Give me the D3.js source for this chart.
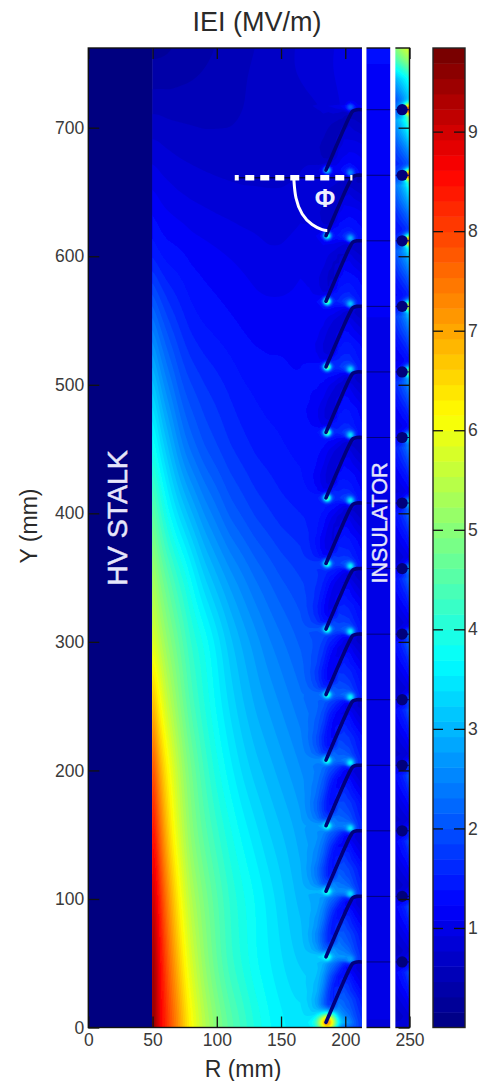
<!DOCTYPE html>
<html>
<head>
<meta charset="utf-8">
<script src="https://cdn.jsdelivr.net/npm/d3@7"></script>
<style>
  html, body { margin: 0; padding: 0; background: #fff; }
  text { font-family: "Liberation Sans", Arial, sans-serif; }
  .tick text { font-size: 17.5px; fill: #3a3a3a; }
  .tick line { stroke: #111; stroke-width: 1.3; }
  .domain { display: none; }
</style>
</head>
<body>
<div id="chart"></div>
<script>
// |E| (MV/m)
const bulkR = [50, 54, 58, 62, 66, 70, 75, 80, 90, 100, 110, 120, 130, 140, 150, 160, 170, 180, 190, 200, 213];
const bulkY = [0, 50, 100, 150, 200, 250, 300, 350, 400, 450, 500, 550, 600, 650, 700, 750, 762];
const bulkE = [
  [9.8, 9.0, 8.5, 8.1, 7.7, 7.3, 6.7, 6.2, 5.5, 5.0, 4.6, 4.3, 4.0, 3.75, 3.6, 3.5, 3.5, 3.5, 2.6, 2.1, 1.7],
  [9.7, 8.9, 8.3, 7.75, 7.25, 6.8, 6.2, 5.75, 5.1, 4.6, 4.2, 3.95, 3.7, 3.55, 3.4, 3.25, 3.15, 3.05, 2.5, 2.0, 1.6],
  [9.3, 8.6, 7.9, 7.3, 6.8, 6.3, 5.8, 5.4, 4.9, 4.5, 4.15, 3.9, 3.7, 3.5, 3.3, 3.1, 2.95, 2.8, 2.35, 1.95, 1.6],
  [8.7, 8.0, 7.3, 6.7, 6.2, 5.8, 5.4, 5.0, 4.55, 4.2, 3.9, 3.65, 3.45, 3.25, 3.1, 2.95, 2.75, 2.6, 2.2, 1.85, 1.55],
  [8.1, 7.3, 6.7, 6.2, 5.85, 5.5, 5.1, 4.8, 4.3, 3.9, 3.6, 3.35, 3.15, 3.0, 2.85, 2.7, 2.55, 2.4, 2.05, 1.8, 1.5],
  [7.0, 6.4, 5.9, 5.55, 5.3, 5.0, 4.7, 4.4, 4.0, 3.65, 3.35, 3.1, 2.9, 2.75, 2.6, 2.45, 2.3, 2.15, 1.9, 1.7, 1.45],
  [5.9, 5.55, 5.3, 5.05, 4.85, 4.65, 4.4, 4.15, 3.85, 3.5, 3.15, 2.9, 2.7, 2.5, 2.35, 2.2, 2.05, 1.95, 1.75, 1.6, 1.4],
  [5.4, 5.0, 4.75, 4.55, 4.35, 4.15, 3.95, 3.7, 3.25, 2.95, 2.7, 2.5, 2.3, 2.15, 2.0, 1.9, 1.8, 1.7, 1.6, 1.5, 1.35],
  [4.7, 4.3, 4.05, 3.75, 3.55, 3.35, 3.15, 2.95, 2.6, 2.35, 2.1, 1.95, 1.8, 1.7, 1.6, 1.55, 1.5, 1.45, 1.45, 1.4, 1.3],
  [3.9, 3.6, 3.3, 3.1, 2.85, 2.65, 2.4, 2.25, 2.0, 1.85, 1.7, 1.6, 1.5, 1.45, 1.4, 1.35, 1.3, 1.3, 1.3, 1.3, 1.25],
  [3.2, 2.9, 2.65, 2.45, 2.3, 2.1, 1.95, 1.85, 1.7, 1.6, 1.5, 1.4, 1.35, 1.3, 1.3, 1.25, 1.25, 1.3, 1.4, 1.45, 1.4],
  [2.4, 2.15, 2.0, 1.85, 1.75, 1.65, 1.55, 1.45, 1.35, 1.3, 1.25, 1.2, 1.15, 1.15, 1.15, 1.15, 1.2, 1.2, 1.3, 1.4, 1.4],
  [1.5, 1.4, 1.35, 1.3, 1.3, 1.28, 1.25, 1.2, 1.16, 1.12, 1.08, 1.04, 1.0, .95, .95, 1.0, 1.05, 1.1, 1.2, 1.3, 1.35],
  [1.1, 1.05, 1.0, .98, .95, .92, .9, .88, .85, .82, .8, .78, .78, .78, .78, .8, .85, .9, 1.0, 1.1, 1.25],
  [.7, .7, .68, .66, .65, .64, .63, .62, .6, .6, .6, .62, .62, .6, .6, .62, .66, .7, .8, .95, 1.1],
  [.3, .3, .32, .32, .34, .36, .38, .4, .45, .5, .55, .6, .65, .7, .75, .8, .85, .9, .95, 1.0, 1.05],
  [.25, .25, .25, .27, .28, .3, .32, .35, .4, .45, .5, .55, .6, .65, .7, .75, .8, .85, .9, .95, 1.0]
];

// how the ribs bend that field, by R and height above a rib tip
const cellR = [165, 172, 178, 183, 187, 191, 195, 199, 203, 207, 210, 213];
const cellT = [0, 6, 12, 18, 24, 30, 36, 42, 46, 48, 51];
const cellFactor = [
  [1, 1.02, 1.06, 1.15, 1.15, 1.15, 1.2, 1.3, 1.3, 1.15, 1.05, 1],
  [1, .97, .9, .78, .8, 1.1, 1.1, 1.15, 1.15, 1.05, 1, .95],
  [1, .95, .85, .72, .62, .75, 1.05, 1.05, 1.05, 1, .95, .9],
  [1, .95, .85, .72, .62, .6, .95, 1, 1, .95, .9, .85],
  [1, .97, .9, .78, .65, .6, .8, .95, .9, .85, .8, .75],
  [1, .98, .93, .85, .72, .62, .6, .85, .85, .75, .7, .65],
  [1, 1, .97, .9, .8, .7, .6, .6, .75, .65, .6, .55],
  [1, 1, 1, .97, .9, .85, .75, .65, .55, .55, .5, .5],
  [1, 1, 1, 1, .95, .95, .9, .8, .7, .55, .5, .5],
  [1, 1, 1.02, 1.05, 1.05, 1.05, 1.05, 1.1, 1.15, 1.1, 1.05, 1],
  [1, 1.02, 1.06, 1.15, 1.15, 1.15, 1.2, 1.3, 1.3, 1.15, 1.05, 1]
];

const ribTipY = [4, 55, 106, 157, 208, 259, 310, 361, 412, 463, 514, 565, 616, 667];
const ribTopY = [51, 102, 153, 204, 255, 306, 357, 408, 459, 510, 561, 612, 663, 714];
const ribTipE = [7.2, 4.2, 4.2, 4.2, 4.2, 4.3, 4.4, 4.5, 4.8, 5, 5.2, 5, 4.3, 3.5];
const ribCornerE = [2.8, 3.4, 3.6, 3.7, 3.7, 3.7, 3.7, 3.6, 3.5, 3.4, 3.2, 3.0, 2.6, 2.2];
const ribShapeR = [0, 19, 21, 24, 28];
const ribShapeY = [0, 43, 46, 47, 47];

const insulatorY = [0, 200, 500, 700, 762];
const insulatorE = [.92, 1.0, 1.05, 1.15, 1.25];

// outer strip, one cell below each disc
const stripR = [239, 243, 247, 250];
const stripS = [0, 8, 18, 30, 42, 51];
const stripFactor = [
  [1, 1, 1, 1.6],
  [1.4, 1.6, 1.9, 2.4],
  [1.2, 1.4, 1.6, 1.9],
  [.95, 1.1, 1.25, 1.45],
  [.8, .85, .95, 1.05],
  [1, 1, 1, 1.3]
];
const stripLevel = [.85, .85, .85, .9, .9, .95, 1, 1, 1.1, 1.2, 1.3, 1.5, 1.7, 2];
const stripTopY = [714, 722, 738, 753, 762];
const stripTopE = [
  [2.4, 2.8, 3.3, 4],
  [2, 2.4, 2.8, 3.2],
  [3, 3.3, 3.6, 3.9],
  [4.4, 4.7, 5, 5.2],
  [5, 5.3, 5.6, 5.8]
];
const discR = 244.3;
const discHotE = [1.3, 1.4, 1.6, 1.8, 2, 2.4, 2.8, 3.2, 3.8, 5, 6, 7.5, 8, 8.2];

const dashR = [114, 205.6];
const dashY = [661, 661];
const arcR = [160, 161, 166, 174, 183, 186];
const arcY = [660, 645, 632, 624, 620, 620];

const xTicks = [0, 50, 100, 150, 200, 250];
const yTicks = [0, 100, 200, 300, 400, 500, 600, 700];
const barTicks = [1, 2, 3, 4, 5, 6, 7, 8, 9];
const gaps = [[213, 216.5], [235, 239]];

const W = 479, H = 1081;
const x = d3.scaleLinear().domain([0, 250]).range([88.3, 409.5]);
const y = d3.scaleLinear().domain([0, 762]).range([1027.5, 48]);
const barY = d3.scaleLinear().domain([0, 9.84]).range([1027.5, 48]);

// jet, 64 levels like the matlab colorbar
const jet = d3.scaleLinear()
  .domain([0, 1.23, 3.69, 6.15, 8.61, 9.84])
  .range(['#000080', '#0000ff', '#00ffff', '#ffff00', '#ff0000', '#700000'])
  .clamp(true);
const step = 9.84 / 64;
const levels = d3.range(64).map(i => i * step);

function lookup(xs, ys, m, px, py) {
  const i = Math.max(0, Math.min(xs.length - 2, d3.bisectRight(xs, px) - 1));
  const j = Math.max(0, Math.min(ys.length - 2, d3.bisectRight(ys, py) - 1));
  const a = Math.max(0, Math.min(1, (px - xs[i]) / (xs[i + 1] - xs[i])));
  const b = Math.max(0, Math.min(1, (py - ys[j]) / (ys[j + 1] - ys[j])));
  return (m[j][i] * (1 - a) + m[j][i + 1] * a) * (1 - b) +
         (m[j + 1][i] * (1 - a) + m[j + 1][i + 1] * a) * b;
}

function peak(v, E, dR, dY, r) {
  const f = Math.exp(-(dR * dR + dY * dY) / (r * r));
  return v + (E - v) * f;
}

// smoothed copy of the read grid so the bands don't kink at every row
const smoothW = 170, smoothH = 770;
const smooth = new Float64Array(smoothW * smoothH);
for (let j = 0; j < smoothH; j++) {
  for (let i = 0; i < smoothW; i++) {
    smooth[j * smoothW + i] = lookup(bulkR, bulkY, bulkE, 48 + i, j - 2);
  }
}
d3.blur2({ data: smooth, width: smoothW, height: smoothH }, 2, 12);

function mainField(R, Y) {
  const i = Math.max(0, Math.min(smoothW - 1, Math.round(R - 48)));
  const j = Math.max(0, Math.min(smoothH - 1, Math.round(Y + 2)));
  let v = smooth[j * smoothW + i];
  const k = Math.floor((Y - ribTipY[0]) / 51);
  if (R > 165 && k <= 13) {
    const t = Y - ribTipY[0] - k * 51;
    v *= lookup(cellR, cellT, cellFactor, R, t);
  }
  ribTipY.forEach((ty, n) => {
    if (Math.abs(Y - ty) < 14) v = peak(v, ribTipE[n], R - 186, Y - ty, n == 0 ? 7 : 3);
  });
  ribTopY.forEach((ty, n) => {
    if (Math.abs(Y - ty) < 14) v = peak(v, ribCornerE[n], R - 204, Y - ty - 2, 3);
  });
  return v;
}

function stripField(R, Y) {
  let v;
  if (Y >= ribTopY[13]) {
    v = lookup(stripR, stripTopY, stripTopE, R, Y);
  } else {
    const k = Math.max(0, Math.min(13, d3.bisectLeft(ribTopY, Y)));
    const s = ribTopY[k] - Y;
    v = stripLevel[k] * lookup(stripR, stripS, stripFactor, R, s);
  }
  ribTopY.forEach((ty, n) => {
    if (Math.abs(Y - ty) < 14) v = peak(v, discHotE[n], R - 250, Y - ty, 4.5);
  });
  return v;
}

function insulatorField(R, Y) {
  return lookup([0, 1], insulatorY, insulatorE.map(e => [e, e]), 0, Y);
}

const svg = d3.select('#chart').append('svg')
  .attr('width', W)
  .attr('height', H)
  .style('display', 'block');

const defs = svg.append('defs');
defs.append('filter').attr('id', 'soft')
  .attr('x', '-2%').attr('y', '-2%').attr('width', '104%').attr('height', '104%')
  .append('feGaussianBlur').attr('stdDeviation', 0.55);

const plot = svg.append('g').attr('filter', 'url(#soft)');

// stalk
plot.append('rect')
  .attr('x', x(0)).attr('y', y(762))
  .attr('width', x(50) - x(0)).attr('height', y(0) - y(762))
  .attr('fill', '#000080');

let clipCount = 0;
function drawField(R0, R1, dR, dY, fn) {
  const Rs = d3.range(R0 - dR, R1 + 2 * dR, dR);
  const Ys = d3.range(-dY, 762 + 2 * dY, dY);
  const values = new Array(Rs.length * Ys.length);
  Ys.forEach((Y, j) => {
    Rs.forEach((R, i) => { values[j * Rs.length + i] = fn(R, Y); });
  });
  const contours = d3.contours().size([Rs.length, Ys.length]).thresholds(levels)(values);
  const path = d3.geoPath(d3.geoTransform({
    point(px, py) {
      this.stream.point(x(R0 - dR + (px - 0.5) * dR), y(-dY + (py - 0.5) * dY));
    }
  }));
  const id = 'clip' + (clipCount++);
  defs.append('clipPath').attr('id', id).append('rect')
    .attr('x', x(R0)).attr('y', y(762))
    .attr('width', x(R1) - x(R0)).attr('height', y(0) - y(762));
  plot.append('g').attr('clip-path', `url(#${id})`)
    .selectAll('path')
    .data(contours)
    .join('path')
    .attr('d', path)
    .attr('fill', d => jet(d.value + step / 2));
}

drawField(50, 213, 1, 1, mainField);
drawField(216.5, 235, 2, 2, insulatorField);
drawField(239, 250, 0.5, 1, stripField);

// ribs
const ribLine = d3.line().x(d => x(d[0])).y(d => y(d[1])).curve(d3.curveCatmullRom);
plot.append('g').selectAll('path')
  .data(ribTipY)
  .join('path')
  .attr('d', ty => ribLine(ribShapeR.map((r, i) => [185 + r, ty + ribShapeY[i]])))
  .attr('fill', 'none')
  .attr('stroke', '#00007c')
  .attr('stroke-width', 3.6)
  .attr('stroke-linecap', 'round');

plot.append('g').selectAll('line')
  .data(ribTopY)
  .join('line')
  .attr('x1', x(212)).attr('x2', x(250))
  .attr('y1', d => y(d)).attr('y2', d => y(d))
  .attr('stroke', '#00007c')
  .attr('stroke-width', 1);

plot.append('g').selectAll('circle')
  .data(ribTopY)
  .join('circle')
  .attr('cx', x(discR))
  .attr('cy', d => y(d))
  .attr('r', 5.6)
  .attr('fill', '#00007c');

// frame + axes
const fw = x(250) - x(0), fh = y(0) - y(762);
svg.append('rect')
  .attr('x', x(0)).attr('y', y(762)).attr('width', fw).attr('height', fh)
  .attr('fill', 'none').attr('stroke', '#111').attr('stroke-width', 1.4);

const tickFmt = d3.format('d');
svg.append('g').attr('transform', `translate(0,${y(0)})`)
  .call(d3.axisBottom(x).tickValues(xTicks).tickSize(-11).tickPadding(6).tickFormat(tickFmt));
svg.append('g').attr('transform', `translate(0,${y(762)})`)
  .call(d3.axisTop(x).tickValues(xTicks).tickSize(-11).tickFormat(''));
svg.append('g').attr('transform', `translate(${x(0)},0)`)
  .call(d3.axisLeft(y).tickValues(yTicks).tickSize(-11).tickPadding(4).tickFormat(tickFmt));
svg.append('g').attr('transform', `translate(${x(250)},0)`)
  .call(d3.axisRight(y).tickValues(yTicks).tickSize(-11).tickFormat(''));

// white gaps go over the frame
svg.append('g').selectAll('rect')
  .data(gaps)
  .join('rect')
  .attr('x', d => x(d[0]))
  .attr('y', y(762) - 1.5)
  .attr('width', d => x(d[1]) - x(d[0]))
  .attr('height', fh + 3)
  .attr('fill', '#fff');

// phi annotation
svg.append('line')
  .attr('x1', x(dashR[0])).attr('x2', x(dashR[1]))
  .attr('y1', y(dashY[0])).attr('y2', y(dashY[1]))
  .attr('stroke', '#000').attr('stroke-width', 1);
svg.append('line')
  .attr('x1', x(dashR[0])).attr('x2', x(dashR[1]))
  .attr('y1', y(dashY[0])).attr('y2', y(dashY[1]))
  .attr('stroke', '#fff').attr('stroke-width', 5.5)
  .attr('stroke-dasharray', '4 6.5 9 6 9 6 9 6 9 6 9 6 9 6 9 6 9 6');
svg.append('path')
  .attr('d', d3.line().x(d => x(d[0])).y(d => y(d[1])).curve(d3.curveBasis)(arcR.map((r, i) => [r, arcY[i]])))
  .attr('fill', 'none').attr('stroke', '#fff').attr('stroke-width', 3);
svg.append('text')
  .attr('x', 325).attr('y', 207)
  .attr('text-anchor', 'middle')
  .attr('font-size', 25)
  .attr('font-weight', 'bold')
  .attr('fill', '#eef')
  .text('Φ');

// region labels
svg.append('text')
  .attr('transform', `translate(127,518) rotate(-90)`)
  .attr('text-anchor', 'middle')
  .attr('font-size', 28.5)
  .attr('fill', '#e6e6fa')
  .attr('stroke', '#e6e6fa')
  .attr('stroke-width', 0.5)
  .text('HV STALK');
svg.append('text')
  .attr('transform', `translate(387,523) rotate(-90)`)
  .attr('text-anchor', 'middle')
  .attr('font-size', 21.5)
  .attr('fill', '#e6e6fa')
  .attr('stroke', '#e6e6fa')
  .attr('stroke-width', 0.4)
  .text('INSULATOR');

// axis titles
svg.append('text')
  .attr('x', 257).attr('y', 31)
  .attr('text-anchor', 'middle')
  .attr('font-size', 27)
  .attr('fill', '#2a2a2a')
  .text('IEI (MV/m)');
svg.append('text')
  .attr('x', 243).attr('y', 1077)
  .attr('text-anchor', 'middle')
  .attr('font-size', 23)
  .attr('fill', '#2a2a2a')
  .text('R (mm)');
svg.append('text')
  .attr('transform', 'translate(37,526) rotate(-90)')
  .attr('text-anchor', 'middle')
  .attr('font-size', 23)
  .attr('fill', '#2a2a2a')
  .text('Y (mm)');

// colorbar
const barX0 = 433, barX1 = 465;
svg.append('g').selectAll('rect')
  .data(levels)
  .join('rect')
  .attr('x', barX0)
  .attr('width', barX1 - barX0)
  .attr('y', d => barY(d + step))
  .attr('height', barY(0) - barY(step) + 0.5)
  .attr('fill', d => jet(d + step / 2));
svg.append('rect')
  .attr('x', barX0).attr('y', barY(9.84))
  .attr('width', barX1 - barX0).attr('height', barY(0) - barY(9.84))
  .attr('fill', 'none').attr('stroke', '#222').attr('stroke-width', 1.4);
svg.append('g').attr('transform', `translate(${barX1},0)`)
  .call(d3.axisRight(barY).tickValues(barTicks).tickSize(-11).tickPadding(3).tickFormat(tickFmt));
svg.append('g').attr('transform', `translate(${barX0},0)`)
  .call(d3.axisLeft(barY).tickValues(barTicks).tickSize(-10).tickFormat(''));
</script>
</body>
</html>
